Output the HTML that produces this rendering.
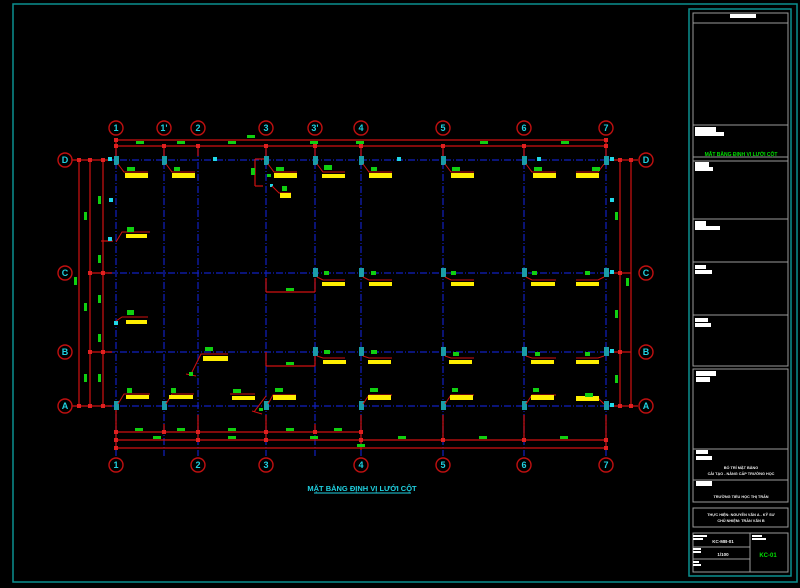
<!DOCTYPE html>
<html><head><meta charset="utf-8"><style>
html,body{margin:0;padding:0;background:#000;width:800px;height:588px;overflow:hidden}
svg{display:block}
text{font-family:"Liberation Sans",sans-serif}
</style></head><body>
<svg width="800" height="588" viewBox="0 0 800 588" xmlns="http://www.w3.org/2000/svg">
<rect x="0" y="0" width="800" height="588" fill="#000"/>
<!-- outer frame -->
<rect x="13" y="4" width="784" height="578" fill="none" stroke="#0b8f8f" stroke-width="1.5"/>
<rect x="689" y="9" width="102" height="567" fill="none" stroke="#0b8f8f" stroke-width="1.5"/>
<!-- title block -->
<g stroke="#9a9a9a" stroke-width="1" fill="none">
<rect x="693" y="13" width="95" height="353"/>
<line x1="693" y1="23" x2="788" y2="23"/>
<line x1="693" y1="125" x2="788" y2="125"/>
<line x1="693" y1="157" x2="788" y2="157"/>
<line x1="693" y1="161" x2="788" y2="161"/>
<line x1="693" y1="219" x2="788" y2="219"/>
<line x1="693" y1="262" x2="788" y2="262"/>
<line x1="693" y1="315" x2="788" y2="315"/>
<rect x="693" y="369" width="95" height="133"/>
<line x1="693" y1="449" x2="788" y2="449"/>
<line x1="693" y1="480" x2="788" y2="480"/>
<rect x="693" y="508" width="95" height="19"/>
<rect x="693" y="533" width="95" height="39"/>
<line x1="750" y1="533" x2="750" y2="572"/>
<line x1="693" y1="547" x2="750" y2="547"/>
<line x1="693" y1="559" x2="750" y2="559"/>
</g>
<g fill="#fff">
<rect x="730" y="14" width="26" height="4"/>
<rect x="695" y="127" width="21" height="5"/><rect x="695" y="132" width="29" height="4"/>
<rect x="695" y="162" width="14" height="5"/><rect x="695" y="167" width="18" height="4"/>
<rect x="695" y="221" width="11" height="5"/><rect x="695" y="226" width="25" height="4"/>
<rect x="695" y="265" width="11" height="4"/><rect x="695" y="270" width="17" height="4"/>
<rect x="695" y="318" width="13" height="4"/><rect x="695" y="323" width="16" height="4"/>
<rect x="696" y="371" width="20" height="5"/><rect x="696" y="377" width="14" height="5"/>
<rect x="696" y="450" width="12" height="4"/><rect x="696" y="456" width="16" height="4"/>
<rect x="696" y="481" width="16" height="5"/>
<rect x="693" y="535" width="14" height="2"/><rect x="693" y="538" width="10" height="2"/>
<rect x="693" y="548" width="8" height="2"/><rect x="693" y="551" width="8" height="2"/>
<rect x="693" y="561" width="6" height="2"/><rect x="693" y="564" width="8" height="2"/>
<rect x="752" y="535" width="10" height="2"/><rect x="752" y="538" width="14" height="2"/>
</g>
<g fill="#eee" font-size="3.8" text-anchor="middle" font-weight="bold">
<text x="741" y="469">BỐ TRÍ MẶT BẰNG</text>
<text x="741" y="475">CẢI TẠO - NÂNG CẤP TRƯỜNG HỌC</text>
<text x="741" y="498">TRƯỜNG TIỂU HỌC THỊ TRẤN</text>
<text x="741" y="516">THỰC HIỆN: NGUYỄN VĂN A - KỸ SƯ</text>
<text x="741" y="522">CHỦ NHIỆM: TRẦN VĂN B</text>
<text x="723" y="543" font-size="4.5">KC-MB-01</text>
<text x="723" y="556" font-size="4.5">1/100</text>
</g>
<text x="741" y="156" fill="#00e000" font-size="5" font-weight="bold" text-anchor="middle">MẶT BẰNG ĐỊNH VỊ LƯỚI CỘT</text>
<text x="768" y="557" fill="#00e000" font-size="6" font-weight="bold" text-anchor="middle">KC-01</text>

<!-- blue grid -->
<g stroke="#1020c0" stroke-width="1.2" stroke-dasharray="7,2,1,2" fill="none">
<line x1="108" y1="160" x2="614" y2="160"/>
<line x1="108" y1="273" x2="614" y2="273"/>
<line x1="108" y1="352" x2="614" y2="352"/>
<line x1="108" y1="406" x2="614" y2="406"/>
<line x1="116" y1="150" x2="116" y2="456"/>
<line x1="164" y1="150" x2="164" y2="456"/>
<line x1="198" y1="150" x2="198" y2="456"/>
<line x1="266" y1="150" x2="266" y2="456"/>
<line x1="315" y1="150" x2="315" y2="456"/>
<line x1="361" y1="150" x2="361" y2="456"/>
<line x1="443" y1="150" x2="443" y2="456"/>
<line x1="524" y1="150" x2="524" y2="456"/>
<line x1="606" y1="150" x2="606" y2="456"/>
</g>

<!-- red dimension lines -->
<g stroke="#d01010" stroke-width="1.2" fill="none">
<line x1="116" y1="140" x2="606" y2="140"/>
<line x1="116" y1="146" x2="606" y2="146"/>
<line x1="116" y1="140" x2="116" y2="156"/><line x1="164" y1="146" x2="164" y2="156"/><line x1="198" y1="146" x2="198" y2="156"/>
<line x1="266" y1="146" x2="266" y2="156"/><line x1="315" y1="146" x2="315" y2="156"/><line x1="361" y1="146" x2="361" y2="156"/>
<line x1="443" y1="146" x2="443" y2="156"/><line x1="524" y1="146" x2="524" y2="156"/><line x1="606" y1="140" x2="606" y2="156"/>
<line x1="116" y1="432" x2="361" y2="432"/>
<line x1="116" y1="440" x2="606" y2="440"/>
<line x1="116" y1="448" x2="606" y2="448"/>
<line x1="116" y1="410" x2="116" y2="450"/><line x1="164" y1="424" x2="164" y2="434"/><line x1="198" y1="415" x2="198" y2="442"/>
<line x1="266" y1="415" x2="266" y2="442"/><line x1="315" y1="424" x2="315" y2="434"/><line x1="361" y1="415" x2="361" y2="450"/>
<line x1="443" y1="415" x2="443" y2="442"/><line x1="524" y1="415" x2="524" y2="442"/><line x1="606" y1="415" x2="606" y2="450"/>
<line x1="79" y1="160" x2="79" y2="406"/>
<line x1="90" y1="160" x2="90" y2="406"/>
<line x1="103" y1="160" x2="103" y2="406"/>
<line x1="72" y1="160" x2="112" y2="160"/><line x1="88" y1="273" x2="112" y2="273"/>
<line x1="88" y1="352" x2="112" y2="352"/><line x1="72" y1="406" x2="112" y2="406"/>
<line x1="101" y1="241" x2="113" y2="241"/>
<line x1="620" y1="160" x2="620" y2="406"/>
<line x1="631" y1="160" x2="631" y2="406"/>
<line x1="612" y1="160" x2="638" y2="160"/><line x1="612" y1="273" x2="631" y2="273"/>
<line x1="612" y1="352" x2="631" y2="352"/><line x1="612" y1="406" x2="638" y2="406"/>
<line x1="255" y1="159" x2="255" y2="186"/><line x1="255" y1="159" x2="266" y2="159"/><line x1="255" y1="186" x2="263" y2="186"/>
<line x1="266" y1="278" x2="266" y2="292"/><line x1="315" y1="278" x2="315" y2="292"/><line x1="266" y1="292" x2="315" y2="292"/>
<line x1="266" y1="352" x2="266" y2="366"/><line x1="315" y1="352" x2="315" y2="366"/><line x1="266" y1="366" x2="315" y2="366"/>
</g>
<g fill="#e02020">
<rect x="114" y="138" width="4" height="4"/><rect x="604" y="138" width="4" height="4"/>
<rect x="114" y="144" width="4" height="4"/><rect x="162" y="144" width="4" height="4"/><rect x="196" y="144" width="4" height="4"/><rect x="264" y="144" width="4" height="4"/><rect x="313" y="144" width="4" height="4"/><rect x="359" y="144" width="4" height="4"/><rect x="441" y="144" width="4" height="4"/><rect x="522" y="144" width="4" height="4"/><rect x="604" y="144" width="4" height="4"/>
<rect x="114" y="430" width="4" height="4"/><rect x="162" y="430" width="4" height="4"/><rect x="196" y="430" width="4" height="4"/><rect x="264" y="430" width="4" height="4"/><rect x="313" y="430" width="4" height="4"/><rect x="359" y="430" width="4" height="4"/>
<rect x="114" y="438" width="4" height="4"/><rect x="196" y="438" width="4" height="4"/><rect x="264" y="438" width="4" height="4"/><rect x="359" y="438" width="4" height="4"/><rect x="441" y="438" width="4" height="4"/><rect x="522" y="438" width="4" height="4"/><rect x="604" y="438" width="4" height="4"/>
<rect x="114" y="446" width="4" height="4"/><rect x="604" y="446" width="4" height="4"/>
<rect x="77" y="158" width="4" height="4"/><rect x="88" y="158" width="4" height="4"/><rect x="101" y="158" width="4" height="4"/>
<rect x="88" y="271" width="4" height="4"/><rect x="101" y="271" width="4" height="4"/>
<rect x="88" y="350" width="4" height="4"/><rect x="101" y="350" width="4" height="4"/>
<rect x="77" y="404" width="4" height="4"/><rect x="88" y="404" width="4" height="4"/><rect x="101" y="404" width="4" height="4"/>
<rect x="618" y="158" width="4" height="4"/><rect x="629" y="158" width="4" height="4"/><rect x="618" y="271" width="4" height="4"/><rect x="618" y="350" width="4" height="4"/><rect x="618" y="404" width="4" height="4"/><rect x="629" y="404" width="4" height="4"/>
</g>

<g fill="none" stroke="#c01010" stroke-width="1.4">
<circle cx="116" cy="128" r="7"/><circle cx="164" cy="128" r="7"/><circle cx="198" cy="128" r="7"/><circle cx="266" cy="128" r="7"/><circle cx="315" cy="128" r="7"/><circle cx="361" cy="128" r="7"/><circle cx="443" cy="128" r="7"/><circle cx="524" cy="128" r="7"/><circle cx="606" cy="128" r="7"/>
<circle cx="116" cy="465" r="7"/><circle cx="198" cy="465" r="7"/><circle cx="266" cy="465" r="7"/><circle cx="361" cy="465" r="7"/><circle cx="443" cy="465" r="7"/><circle cx="524" cy="465" r="7"/><circle cx="606" cy="465" r="7"/>
<circle cx="65" cy="160" r="7"/><circle cx="65" cy="273" r="7"/><circle cx="65" cy="352" r="7"/><circle cx="65" cy="406" r="7"/>
<circle cx="646" cy="160" r="7"/><circle cx="646" cy="273" r="7"/><circle cx="646" cy="352" r="7"/><circle cx="646" cy="406" r="7"/>
</g>
<g fill="#20d0e0" font-size="9" font-weight="bold" text-anchor="middle">
<text x="116" y="131">1</text><text x="164" y="131">1'</text><text x="198" y="131">2</text><text x="266" y="131">3</text><text x="315" y="131">3'</text><text x="361" y="131">4</text><text x="443" y="131">5</text><text x="524" y="131">6</text><text x="606" y="131">7</text>
<text x="116" y="468">1</text><text x="198" y="468">2</text><text x="266" y="468">3</text><text x="361" y="468">4</text><text x="443" y="468">5</text><text x="524" y="468">6</text><text x="606" y="468">7</text>
<text x="65" y="163">D</text><text x="65" y="276">C</text><text x="65" y="355">B</text><text x="65" y="409">A</text>
<text x="646" y="163">D</text><text x="646" y="276">C</text><text x="646" y="355">B</text><text x="646" y="409">A</text>
</g>

<g fill="#1a9ca8">
<rect x="114" y="156" width="5" height="9"/><rect x="162" y="156" width="5" height="9"/><rect x="264" y="156" width="5" height="9"/><rect x="313" y="156" width="5" height="9"/><rect x="359" y="156" width="5" height="9"/><rect x="441" y="156" width="5" height="9"/><rect x="522" y="156" width="5" height="9"/><rect x="604" y="156" width="5" height="9"/>
<rect x="313" y="268" width="5" height="9"/><rect x="359" y="268" width="5" height="9"/><rect x="441" y="268" width="5" height="9"/><rect x="522" y="268" width="5" height="9"/><rect x="604" y="268" width="5" height="9"/>
<rect x="313" y="347" width="5" height="9"/><rect x="359" y="347" width="5" height="9"/><rect x="441" y="347" width="5" height="9"/><rect x="522" y="347" width="5" height="9"/><rect x="604" y="347" width="5" height="9"/>
<rect x="114" y="401" width="5" height="9"/><rect x="162" y="401" width="5" height="9"/><rect x="264" y="401" width="5" height="9"/><rect x="359" y="401" width="5" height="9"/><rect x="441" y="401" width="5" height="9"/><rect x="522" y="401" width="5" height="9"/><rect x="604" y="401" width="5" height="9"/>
</g>
<g fill="#20d8e8">
<rect x="108" y="157" width="4" height="4"/><rect x="213" y="157" width="4" height="4"/><rect x="397" y="157" width="4" height="4"/><rect x="537" y="157" width="4" height="4"/><rect x="610" y="157" width="4" height="4"/>
<rect x="109" y="198" width="4" height="4"/><rect x="108" y="237" width="4" height="4"/><rect x="610" y="198" width="4" height="4"/>
<rect x="610" y="270" width="4" height="4"/><rect x="610" y="349" width="4" height="4"/><rect x="610" y="403" width="4" height="4"/>
<rect x="270" y="184" width="3" height="3"/><rect x="114" y="321" width="4" height="4"/>
</g>

<g stroke="#d01010" stroke-width="1" fill="none">
<polyline points="118,164 124,172 148,172"/><polyline points="166,164 172,172 195,172"/><polyline points="268,164 274,172 297,172"/><polyline points="317,164 323,172 345,172"/><polyline points="363,164 369,172 392,172"/><polyline points="445,164 451,172 474,172"/><polyline points="526,164 532,172 556,172"/><polyline points="604,164 598,172 576,172"/>
<polyline points="272,186 279,193 291,193"/>
<polyline points="116,242 122,232 150,232"/><polyline points="116,321 122,317 148,317"/>
<polyline points="317,277 323,280 345,280"/><polyline points="363,277 369,280 392,280"/><polyline points="445,277 451,280 474,280"/><polyline points="526,277 532,280 556,280"/><polyline points="604,277 598,280 576,280"/>
<polyline points="317,356 323,358 345,358"/><polyline points="363,356 369,358 392,358"/><polyline points="445,356 451,358 474,358"/><polyline points="526,356 532,358 556,358"/><polyline points="604,356 598,358 576,358"/>
<polyline points="192,372 201,354 228,354"/>
<polyline points="118,404 124,394 150,394"/><polyline points="166,404 172,394 194,394"/><polyline points="230,394 255,394"/><polyline points="268,404 273,395 296,395"/><polyline points="363,404 369,395 392,395"/><polyline points="445,404 451,395 474,395"/><polyline points="526,404 532,395 556,395"/><polyline points="604,404 598,398 576,398"/>
<polyline points="254,412 266,396"/><polyline points="252,411 262,414"/><polyline points="186,374 196,376"/>
</g>
<g fill="#ffee00">
<rect x="125" y="173" width="23" height="5"/><rect x="172" y="173" width="23" height="5"/><rect x="274" y="173" width="23" height="5"/><rect x="322" y="174" width="23" height="4"/><rect x="369" y="173" width="23" height="5"/><rect x="451" y="173" width="23" height="5"/><rect x="533" y="173" width="23" height="5"/><rect x="576" y="173" width="23" height="5"/>
<rect x="280" y="193" width="11" height="5"/>
<rect x="126" y="234" width="21" height="4"/><rect x="126" y="320" width="21" height="4"/>
<rect x="322" y="282" width="23" height="4"/><rect x="369" y="282" width="23" height="4"/><rect x="451" y="282" width="23" height="4"/><rect x="531" y="282" width="24" height="4"/><rect x="576" y="282" width="23" height="4"/>
<rect x="203" y="356" width="25" height="5"/>
<rect x="323" y="360" width="23" height="4"/><rect x="368" y="360" width="23" height="4"/><rect x="449" y="360" width="23" height="4"/><rect x="531" y="360" width="23" height="4"/><rect x="576" y="360" width="23" height="4"/>
<rect x="126" y="395" width="23" height="4"/><rect x="169" y="395" width="24" height="4"/><rect x="232" y="396" width="23" height="4"/><rect x="273" y="395" width="23" height="5"/><rect x="368" y="395" width="23" height="5"/><rect x="450" y="395" width="23" height="5"/><rect x="531" y="395" width="23" height="5"/><rect x="576" y="396" width="23" height="5"/>
</g>
<g fill="#10d010">
<rect x="127" y="167" width="8" height="4"/><rect x="174" y="167" width="6" height="4"/><rect x="276" y="167" width="8" height="4"/><rect x="324" y="165" width="8" height="5"/><rect x="371" y="167" width="6" height="4"/><rect x="452" y="167" width="8" height="4"/><rect x="534" y="167" width="8" height="4"/><rect x="592" y="167" width="8" height="4"/>
<rect x="282" y="186" width="5" height="5"/><rect x="251" y="168" width="4" height="7"/><rect x="267" y="174" width="4" height="3"/>
<rect x="127" y="227" width="7" height="5"/><rect x="127" y="310" width="7" height="5"/>
<rect x="324" y="271" width="5" height="4"/><rect x="371" y="271" width="5" height="4"/><rect x="451" y="271" width="5" height="4"/><rect x="532" y="271" width="5" height="4"/><rect x="585" y="271" width="5" height="4"/>
<rect x="205" y="347" width="8" height="4"/><rect x="189" y="372" width="4" height="4"/><rect x="259" y="408" width="4" height="3"/>
<rect x="324" y="350" width="6" height="4"/><rect x="371" y="350" width="6" height="4"/><rect x="453" y="352" width="6" height="4"/><rect x="535" y="352" width="5" height="4"/><rect x="585" y="352" width="5" height="4"/>
<rect x="127" y="388" width="5" height="5"/><rect x="171" y="388" width="5" height="5"/><rect x="233" y="389" width="8" height="4"/><rect x="275" y="388" width="8" height="4"/><rect x="370" y="388" width="8" height="4"/><rect x="452" y="388" width="6" height="4"/><rect x="533" y="388" width="6" height="4"/><rect x="585" y="393" width="8" height="4"/>
<rect x="136" y="141" width="8" height="3"/><rect x="177" y="141" width="8" height="3"/><rect x="228" y="141" width="8" height="3"/><rect x="310" y="141" width="8" height="3"/><rect x="356" y="141" width="8" height="3"/><rect x="480" y="141" width="8" height="3"/><rect x="561" y="141" width="8" height="3"/>
<rect x="247" y="135" width="8" height="3"/>
<rect x="135" y="428" width="8" height="3"/><rect x="177" y="428" width="8" height="3"/><rect x="228" y="428" width="8" height="3"/><rect x="286" y="428" width="8" height="3"/><rect x="334" y="428" width="8" height="3"/>
<rect x="153" y="436" width="8" height="3"/><rect x="228" y="436" width="8" height="3"/><rect x="310" y="436" width="8" height="3"/><rect x="398" y="436" width="8" height="3"/><rect x="479" y="436" width="8" height="3"/><rect x="560" y="436" width="8" height="3"/>
<rect x="357" y="444" width="8" height="3"/>
<rect x="84" y="212" width="3" height="8"/><rect x="84" y="303" width="3" height="8"/><rect x="84" y="374" width="3" height="8"/>
<rect x="98" y="196" width="3" height="8"/><rect x="98" y="255" width="3" height="8"/><rect x="98" y="295" width="3" height="8"/><rect x="98" y="334" width="3" height="8"/><rect x="98" y="374" width="3" height="8"/>
<rect x="74" y="277" width="3" height="8"/>
<rect x="615" y="212" width="3" height="8"/><rect x="615" y="310" width="3" height="8"/><rect x="615" y="375" width="3" height="8"/><rect x="626" y="278" width="3" height="8"/>
<rect x="286" y="288" width="8" height="3"/><rect x="286" y="362" width="8" height="3"/>
</g>

<text x="362" y="491" fill="#20d0e0" font-size="7.5" font-weight="bold" text-anchor="middle">MẶT BẰNG ĐỊNH VỊ LƯỚI CỘT</text>
<line x1="314" y1="493" x2="411" y2="493" stroke="#20d0e0" stroke-width="1"/>
</svg>
</body></html>
